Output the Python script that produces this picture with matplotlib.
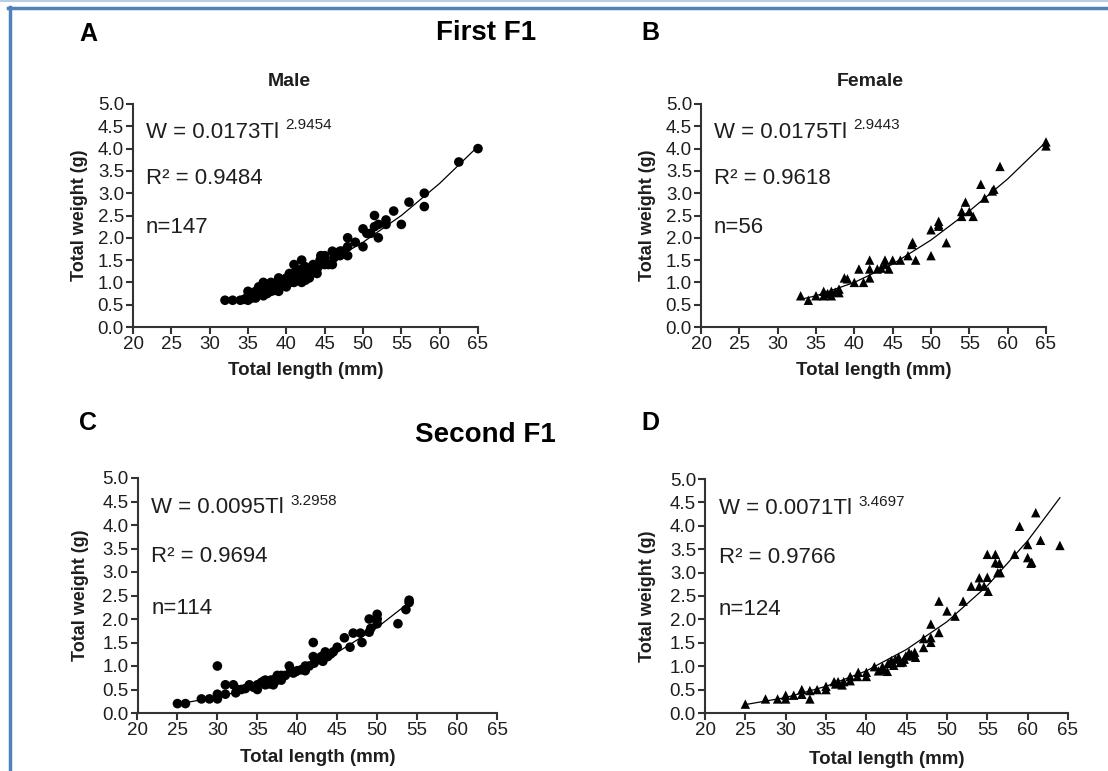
import numpy as np
import matplotlib
matplotlib.use("Agg")
import matplotlib.pyplot as plt
from matplotlib.lines import Line2D

plt.rcParams['font.family'] = ['Liberation Sans', 'DejaVu Sans']

W_PX, H_PX = 1108, 771

# ===============================
# data
# ===============================
x_ticks = [20, 25, 30, 35, 40, 45, 50, 55, 60, 65]
y_ticks = [0.0, 0.5, 1.0, 1.5, 2.0, 2.5, 3.0, 3.5, 4.0, 4.5, 5.0]
y_tick_labels = ["0.0", "0.5", "1.0", "1.5", "2.0", "2.5", "3.0", "3.5", "4.0", "4.5", "5.0"]

# A - first F1, male
male1_len = [32, 33, 34, 34.5, 35, 35, 35, 35.5, 35.5, 36, 36, 36, 36.5, 36.5, 37, 37, 37, 37,
             37.5, 37.5, 38, 38, 38, 38.5, 38.5, 39, 39, 39, 39, 39.5, 40, 40, 40, 40, 40.5, 40.5,
             41, 41, 41, 41, 41.5, 41.5, 42, 42, 42, 42, 42, 42.5, 42.5, 43, 43, 43, 43.5, 43.5,
             44, 44, 44, 44.5, 44.5, 45, 45, 45, 45.5, 46, 46, 46.5, 47, 47, 47.5, 48, 48, 48,
             49, 50, 50, 50.5, 51, 51.5, 51.5, 52, 52, 53, 53, 54, 55, 56, 58, 58, 62.5, 65,
             35.2, 35.8, 36.2, 36.8, 37.2, 37.8, 38.2, 38.8, 39.2, 39.8, 40.2, 40.8, 41.2, 41.8,
             42.2, 42.8, 43.2, 43.8, 44.2, 44.8, 36.4, 38.4, 40.4, 42.4, 44.4, 46.2, 47.2]
male1_wt = [0.6, 0.6, 0.6, 0.62, 0.6, 0.7, 0.8, 0.65, 0.75, 0.7, 0.8, 0.65, 0.75, 0.85, 0.7, 0.8, 0.9, 1.0,
            0.85, 0.75, 0.8, 0.9, 1.0, 0.85, 0.95, 0.8, 0.9, 1.0, 1.1, 0.95, 0.9, 1.0, 1.05, 1.1, 1.0, 1.15,
            1.0, 1.1, 1.2, 1.4, 1.05, 1.25, 1.0, 1.1, 1.2, 1.3, 1.5, 1.05, 1.35, 1.1, 1.2, 1.3, 1.25, 1.4,
            1.2, 1.3, 1.35, 1.4, 1.6, 1.4, 1.5, 1.6, 1.4, 1.4, 1.7, 1.65, 1.6, 1.7, 1.65, 1.6, 1.8, 2.0,
            1.9, 1.8, 2.2, 2.1, 2.1, 2.25, 2.5, 2.0, 2.3, 2.4, 2.3, 2.6, 2.3, 2.8, 2.7, 3.0, 3.7, 4.0,
            0.68, 0.72, 0.75, 0.82, 0.78, 0.88, 0.92, 0.9, 0.95, 1.02, 0.98, 1.08, 1.12, 1.15,
            1.18, 1.22, 1.25, 1.3, 1.38, 1.45, 0.9, 0.82, 1.2, 1.25, 1.5, 1.55, 1.7]
male1_fit_len = [32, 35, 40, 45, 50, 55, 60, 65]
male1_fit_wt = [0.55, 0.70, 0.98, 1.40, 1.90, 2.50, 3.22, 4.05]

# B - first F1, female
female1_len = [33, 34, 35, 36, 36, 36.5, 37, 37, 37.5, 38, 38, 38.7, 39.1, 40, 40.6, 41.2,
               42, 42, 42, 43, 43.5, 44, 44, 44.5, 45, 46, 47, 47.5, 47.6, 48, 50, 50,
               51, 51, 51, 52, 54, 54, 54.5, 55, 55.5, 56.5, 57, 58, 58.2, 59, 65, 65]
female1_wt = [0.7, 0.6, 0.7, 0.8, 0.7, 0.75, 0.8, 0.7, 0.78, 0.85, 0.77, 1.1, 1.08, 1.0, 1.3, 1.0,
              1.5, 1.3, 1.1, 1.3, 1.32, 1.5, 1.4, 1.3, 1.5, 1.5, 1.6, 1.85, 1.9, 1.5, 2.18, 1.6,
              2.37, 2.3, 2.26, 1.89, 2.59, 2.48, 2.8, 2.59, 2.48, 3.2, 2.89, 3.05, 3.09, 3.6, 4.15, 4.06]
female1_fit_len = [33, 35, 40, 45, 50, 55, 60, 65]
female1_fit_wt = [0.62, 0.70, 1.00, 1.41, 1.95, 2.60, 3.32, 4.15]

# C - second F1, male
male2_len = [25, 26, 28, 29, 30, 30, 30, 31, 31, 32, 32.3, 32.5, 33, 34, 35, 35, 35.5, 36, 36,
             36.3, 36.7, 37, 37, 37.5, 37.5, 38, 38, 38.5, 39, 39.2, 39.5, 40, 40.5, 41, 41, 41.5,
             42, 42, 42.1, 42.5, 43, 43.2, 43.5, 44, 44.5, 45, 45.9, 46.6, 47, 47.9, 48.1, 49,
             49, 49.2, 50, 50, 50, 52.6, 53.6, 54, 54,
             33.5, 34.5, 35.8, 36.5, 37.2, 37.8, 38.2, 39.8, 42.8, 43.8, 44.2]
male2_wt = [0.2, 0.2, 0.3, 0.3, 0.4, 0.3, 1.0, 0.6, 0.4, 0.6, 0.43, 0.5, 0.5, 0.6, 0.6, 0.5, 0.65, 0.7, 0.6,
            0.65, 0.7, 0.6, 0.7, 0.8, 0.7, 0.7, 0.8, 0.8, 1.0, 0.9, 0.85, 0.9, 0.92, 1.0, 0.9, 1.0,
            1.5, 1.2, 1.06, 1.13, 1.2, 1.1, 1.3, 1.24, 1.3, 1.4, 1.6, 1.4, 1.7, 1.7, 1.5, 2.0,
            1.72, 1.8, 2.1, 2.0, 1.9, 1.9, 2.2, 2.4, 2.35,
            0.52, 0.55, 0.68, 0.62, 0.72, 0.76, 0.78, 0.88, 1.15, 1.2, 1.26]
male2_fit_len = [25, 30, 35, 40, 45, 50, 54]
male2_fit_wt = [0.19, 0.34, 0.56, 0.87, 1.29, 1.82, 2.35]

# D - second F1, female
female2_len = [25, 27.5, 29, 30, 30, 31, 32, 32, 33, 33, 33.9, 35, 35, 36, 36.5, 37, 37.2, 38, 38,
               38.9, 39, 40, 40, 41, 41.5, 42, 42.6, 42.7, 43.1, 43.6, 44, 44.5, 44.9, 45.3, 45.9,
               46.1, 47.1, 47.1, 48, 48, 48, 49, 49, 50, 51, 52, 53, 54, 54, 54.6, 55, 55, 55.1,
               56, 56, 56.3, 56.5, 56.6, 58.4, 59, 60, 60, 60.4, 60.5, 61, 61.6, 64,
               42.2, 43.4, 44.2, 44.7, 45.6, 46, 36.2]
female2_wt = [0.19, 0.3, 0.3, 0.38, 0.3, 0.38, 0.5, 0.4, 0.48, 0.3, 0.5, 0.57, 0.5, 0.67, 0.67, 0.6, 0.67, 0.78, 0.69,
              0.78, 0.87, 0.87, 0.78, 0.99, 0.9, 0.99, 0.89, 1.06, 1.12, 1.15, 1.19, 1.09, 1.22, 1.29, 1.22,
              1.19, 1.59, 1.4, 1.9, 1.61, 1.51, 2.39, 1.72, 2.18, 2.07, 2.39, 2.71, 2.89, 2.71, 2.71, 3.39, 2.9, 2.6,
              3.39, 3.21, 3.0, 3.2, 3.0, 3.39, 3.99, 3.6, 3.32, 3.2, 3.22, 4.28, 3.69, 3.58,
              0.92, 1.02, 1.08, 1.15, 1.25, 1.3, 0.62]
female2_fit_len = [25, 30, 35, 40, 45, 50, 55, 60, 64]
female2_fit_wt = [0.18, 0.33, 0.57, 0.90, 1.36, 1.95, 2.72, 3.68, 4.60]

eq_coef = ["W = 0.0173Tl", "W = 0.0175Tl", "W = 0.0095Tl", "W = 0.0071Tl"]
eq_exp = ["2.9454", "2.9443", "3.2958", "3.4697"]
r2_text = ["R\u00b2 = 0.9484", "R\u00b2 = 0.9618", "R\u00b2 = 0.9694", "R\u00b2 = 0.9766"]
n_text = ["n=147", "n=56", "n=114", "n=124"]

# ===============================
# figure
# ===============================
fig = plt.figure(figsize=(W_PX / 100, H_PX / 100), dpi=100)


def fx(x):
    return x / W_PX


def fy(y):
    return 1 - y / H_PX


# frame lines (blue page border)
fig.add_artist(Line2D([0, 1], [fy(0.5), fy(0.5)], color="#b9cde5", lw=1.5, transform=fig.transFigure))
fig.add_artist(Line2D([fx(8), 1], [fy(8), fy(8)], color="#4f81bd", lw=2.5, transform=fig.transFigure))
fig.add_artist(Line2D([fx(9.5), fx(9.5)], [fy(7), 0], color="#4f81bd", lw=2.5, transform=fig.transFigure))

# pixel boxes of the four plot areas: left, right, top, bottom
boxes = [(133, 478, 104, 327), (701, 1046, 104, 327),
         (137.5, 497, 478, 713), (705, 1068, 479, 713)]
series = [(male1_len, male1_wt, male1_fit_len, male1_fit_wt, "o"),
          (female1_len, female1_wt, female1_fit_len, female1_fit_wt, "^"),
          (male2_len, male2_wt, male2_fit_len, male2_fit_wt, "o"),
          (female2_len, female2_wt, female2_fit_len, female2_fit_wt, "^")]
ylabel_x = [80, 648, 80.5, 647]
xlabel_y = [370, 370, 758, 759]
txt_col = "#1e1e1e"

for i, (box, s) in enumerate(zip(boxes, series)):
    L, R, T, B = box
    ax = fig.add_axes([fx(L), fy(B), (R - L) / W_PX, (B - T) / H_PX])
    xs, ys, fxs, fys, mk = s
    ax.plot(fxs, fys, color="black", lw=0.9, zorder=2)
    size = 48 if mk == "o" else 46
    ax.scatter(xs, ys, marker=mk, s=size, color="black", edgecolors="none", zorder=3, clip_on=False)

    ax.set_xlim(20, 65)
    ax.set_ylim(0, 5)
    ax.set_xticks(x_ticks)
    ax.set_yticks(y_ticks)
    ax.set_yticklabels(y_tick_labels)
    for sp in ["top", "right"]:
        ax.spines[sp].set_visible(False)
    for sp in ["left", "bottom"]:
        ax.spines[sp].set_linewidth(1.5)
        ax.spines[sp].set_color("#333333")
    ax.tick_params(direction="out", length=5, width=1.5, color="#333333",
                   labelsize=13.5, labelcolor=txt_col, pad=1.5)

    # equation text
    t = ax.text(21.7, 4.37, eq_coef[i], fontsize=16, color=txt_col, va="center", ha="left")
    ax.annotate(eq_exp[i], xy=(1, 0.5), xycoords=t, xytext=(4.5, 5), textcoords="offset points",
                fontsize=11, color=txt_col, va="center", ha="left")
    ax.text(21.7, 3.33, r2_text[i], fontsize=16, color=txt_col, va="center", ha="left")
    ax.text(21.7, 2.22, n_text[i], fontsize=16, color=txt_col, va="center", ha="left")

    # axis labels
    fig.text(fx(ylabel_x[i]), fy((T + B) / 2), "Total weight (g)", rotation=90, fontsize=13,
             fontweight="bold", color=txt_col, ha="center", va="center")
    fig.text(fx((L + R) / 2), fy(xlabel_y[i]), "Total length (mm)", fontsize=13.5,
             fontweight="bold", color=txt_col, ha="center", va="center")

# panel letters and titles
for letter, (x, y) in zip("ABCD", [(88, 34), (650, 33), (88, 423), (650, 423)]):
    fig.text(fx(x), fy(y), letter, fontsize=18, fontweight="bold", color="black", ha="center", va="center")
fig.text(fx(486), fy(33), "First F1", fontsize=20, fontweight="bold", color="black", ha="center", va="center")
fig.text(fx(485), fy(435), "Second F1", fontsize=20, fontweight="bold", color="black", ha="center", va="center")
fig.text(fx(289), fy(82), "Male", fontsize=14, fontweight="bold", color=txt_col, ha="center", va="center")
fig.text(fx(870), fy(82), "Female", fontsize=14, fontweight="bold", color=txt_col, ha="center", va="center")

fig.savefig("out.png", dpi=100)
